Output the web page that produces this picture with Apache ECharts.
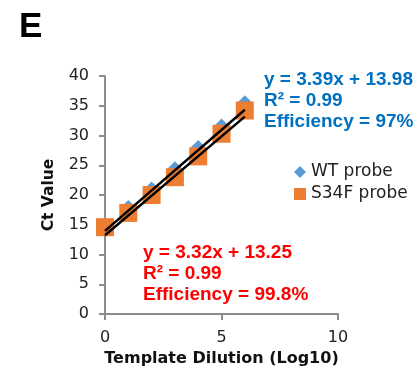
<!DOCTYPE html>
<html>
<head>
<meta charset="utf-8">
<script src="https://cdn.jsdelivr.net/npm/echarts@6/dist/echarts.min.js"></script>
<style>
  html, body { margin: 0; padding: 0; background: #fff; }
  #chart { width: 420px; height: 372px; }
</style>
</head>
<body>
<div id="chart"></div>
<script>
// dilution steps (log10)
var dilution = [0, 1, 2, 3, 4, 5, 6];
var wtCt = [14.3, 17.9, 21.0, 24.4, 28.0, 31.6, 35.5];
var s34fCt = [14.6, 17.0, 20.0, 23.0, 26.5, 30.3, 34.2];
// trendline end points, from the equations in the figure
var wtTrend = [[0, 13.98], [6, 34.32]];
var s34fTrend = [[0, 13.25], [6, 33.17]];

var wtEq = ['y = 3.39x + 13.98', 'R² = 0.99', 'Efficiency = 97%'];
var s34fEq = ['y = 3.32x + 13.25', 'R² = 0.99', 'Efficiency = 99.8%'];

var wide = '"DejaVu Sans", sans-serif';
var arial = '"Liberation Sans", Arial, sans-serif';

function pairs(xs, ys) {
    var out = [];
    for (var i = 0; i < xs.length; i++) out.push([xs[i], ys[i]]);
    return out;
}

function eqText(lines, x, y, color) {
    return lines.map(function (t, i) {
        return {
            type: 'text', x: x, y: y + i * 21,
            style: { text: t, fill: color, font: 'bold 19px ' + arial, verticalAlign: 'middle' }
        };
    });
}

var chart = echarts.init(document.getElementById('chart'));

var axisGray = '#8c8c8c';

chart.setOption({
    animation: false,
    grid: { left: 105, top: 76, width: 233, height: 239, containLabel: false },
    xAxis: {
        type: 'value', min: 0, max: 10, interval: 5,
        name: 'Template Dilution (Log10)', nameLocation: 'middle', nameGap: 35,
        nameTextStyle: { fontFamily: wide, fontWeight: 'bold', fontSize: 16, color: '#111' },
        axisLine: { onZero: false, lineStyle: { color: axisGray, width: 2 } },
        axisTick: { show: true, length: 6, lineStyle: { color: axisGray, width: 2 } },
        axisLabel: { fontFamily: wide, fontSize: 16, color: '#222', margin: 16 },
        splitLine: { show: false }
    },
    yAxis: {
        type: 'value', min: 0, max: 40, interval: 5,
        name: 'Ct Value', nameLocation: 'middle', nameGap: 48,
        nameTextStyle: { fontFamily: wide, fontWeight: 'bold', fontSize: 15.5, color: '#111' },
        axisLine: { show: true, lineStyle: { color: axisGray, width: 2 } },
        axisTick: { show: true, length: 6, lineStyle: { color: axisGray, width: 2 } },
        axisLabel: { fontFamily: wide, fontSize: 16, color: '#222', margin: 16 },
        splitLine: { show: false }
    },
    legend: {
        orient: 'vertical', left: 289, top: 158, itemGap: 4,
        itemWidth: 12, itemHeight: 12, itemTextGap: 4,
        textStyle: { fontFamily: wide, fontSize: 17, lineHeight: 18, color: '#222' },
        data: [
            { name: 'WT probe', icon: 'diamond' },
            { name: 'S34F probe', icon: 'rect' }
        ]
    },
    graphic: [
        { type: 'text', x: 19, y: 27, style: { text: 'E', fill: '#000', font: 'bold 35px ' + arial, verticalAlign: 'middle' } }
    ].concat(eqText(wtEq, 264, 80, '#0070c0')).concat(eqText(s34fEq, 143, 253, '#ff0000')),
    series: [
        {
            name: 'WT probe', type: 'scatter', symbol: 'diamond', symbolSize: 15,
            itemStyle: { color: '#5b9bd5', opacity: 1 }, z: 2,
            data: pairs(dilution, wtCt)
        },
        {
            name: 'S34F probe', type: 'scatter', symbol: 'rect', symbolSize: 18,
            itemStyle: { color: '#ed7d31', opacity: 1 }, z: 3,
            data: pairs(dilution, s34fCt)
        },
        {
            name: 'WT trend', type: 'line', data: wtTrend, symbol: 'none', z: 5,
            lineStyle: { color: '#000', width: 2.5 }
        },
        {
            name: 'S34F trend', type: 'line', data: s34fTrend, symbol: 'none', z: 5,
            lineStyle: { color: '#000', width: 2.5 }
        }
    ]
});
</script>
</body>
</html>
